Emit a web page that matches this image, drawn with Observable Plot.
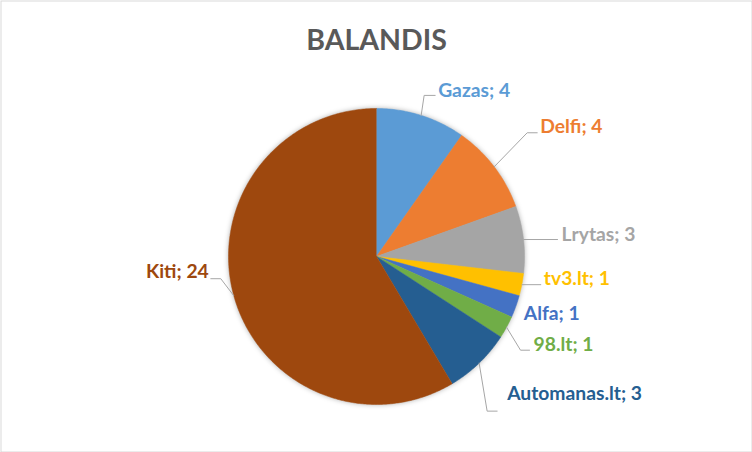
<!DOCTYPE html>
<html><head><meta charset="utf-8">
<script src="https://cdn.jsdelivr.net/npm/d3@7"></script>
<script src="https://cdn.jsdelivr.net/npm/@observablehq/plot@0.6"></script>
<style>body{margin:0;background:#fff}</style>
</head><body><div id="chart"></div>
<script>
// ---- data ----
const title = "BALANDIS";
const names = ["Gazas", "Delfi", "Lrytas", "tv3.lt", "Alfa", "98.lt", "Automanas.lt", "Kiti"];
const values = [4, 4, 3, 1, 1, 1, 3, 24];
const colors = ["#5B9BD5", "#ED7D31", "#A5A5A5", "#FFC000", "#4472C4", "#70AD47", "#255E91", "#9E480E"];

// ---- layout (pixels) ----
const W = 752, H = 452, CX = 376, CY = 256, R = 148;
const leaderEnd = [[14, -20], [43, -34], [34, 0], [19, 0], null, [23, 23], [18, 48], [-23, -17]];
const leaderRun = [11, 10, 34, 19, 0, 9, 10, 10];
const textOff = [[17, -25], [46, -40], [38, -5], [22, -6], [8, 7], [27, 18], [28, 31], [-25, -24]];

const arcs = d3.pie().sort(null).value(d => d)(values);
const slices = arcs.flatMap((a, i) => {
  const n = Math.max(2, Math.ceil((a.endAngle - a.startAngle) / 0.01));
  const pts = [{name: names[i], x: 0, y: 0}];
  for (let k = 0; k <= n; k++) {
    const t = a.startAngle + (a.endAngle - a.startAngle) * k / n;
    pts.push({name: names[i], x: Math.sin(t), y: Math.cos(t)});
  }
  return pts;
});
const edge = arcs.map(a => { const m = (a.startAngle + a.endAngle) / 2; return [Math.sin(m), Math.cos(m)]; });
const px = (p, d) => [p[0] + d[0] / R, p[1] - d[1] / R];

const leaders = [];
arcs.forEach((a, i) => {
  if (!leaderEnd[i]) return;
  const e = edge[i];
  const end = px(e, leaderEnd[i]);
  const sign = leaderEnd[i][0] >= 0 ? 1 : -1;
  const elbow = [end[0] - sign * leaderRun[i] / R, end[1]];
  [e, elbow, end].forEach(p => leaders.push({name: names[i], x: p[0], y: p[1]}));
});

const labels = arcs.map((a, i) => {
  const p = px(edge[i], textOff[i]);
  return {name: names[i], text: `${names[i]}; ${values[i]}`, x: p[0], y: p[1], anchor: textOff[i][0] >= 0 ? "start" : "end"};
});

const chart = Plot.plot({
  width: W, height: H, margin: 0,
  style: {fontFamily: "Lato, 'Open Sans', sans-serif", background: "#fff"},
  x: {domain: [-CX / R, (W - CX) / R], axis: null},
  y: {domain: [-(H - CY) / R, CY / R], axis: null},
  color: {domain: names, range: colors},
  marks: [
    Plot.frame({stroke: "#d9d9d9", inset: 0.5}),
    Plot.line(slices, {x: "x", y: "y", z: "name", fill: "name", stroke: "name", strokeWidth: 0.5}),
    Plot.line(leaders, {x: "x", y: "y", z: "name", stroke: "#a6a6a6", strokeWidth: 1}),
    Plot.text(labels.filter(d => d.anchor === "start"), {x: "x", y: "y", text: "text", fill: "name", textAnchor: "start", lineAnchor: "middle", fontSize: 19.3, fontWeight: 700}),
    Plot.text(labels.filter(d => d.anchor === "end"), {x: "x", y: "y", text: "text", fill: "name", textAnchor: "end", lineAnchor: "middle", fontSize: 19.3, fontWeight: 700}),
    Plot.text([title], {frameAnchor: "top", dy: 40, lineAnchor: "middle", fontSize: 28.5, fontWeight: 700, fill: "#595959"})
  ]
});
const g = chart.querySelectorAll('g[aria-label="line"]')[0];
if (g) g.style.filter = "drop-shadow(0px 0px 2.5px rgba(0,0,0,0.3))";
document.getElementById("chart").appendChild(chart);
</script>
</body></html>
